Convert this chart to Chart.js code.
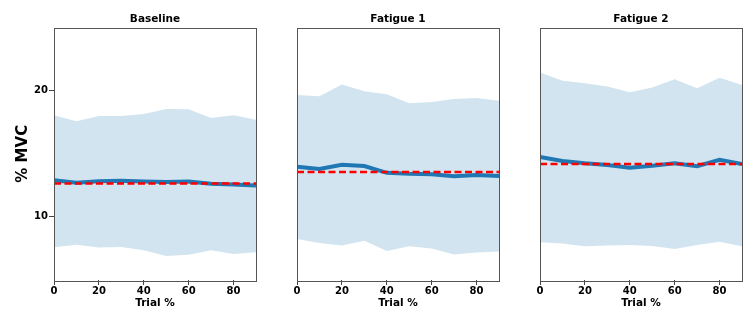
<!DOCTYPE html>
<html>
<head>
<meta charset="utf-8">
<script src="https://cdn.jsdelivr.net/npm/chart.js@4/dist/chart.umd.min.js"></script>
<style>
  body { margin: 0; background: #fff; }
  .panel { position: absolute; top: 0; height: 323px; }
</style>
</head>
<body>
<div class="panel" style="left:0px;width:262px"><canvas id="c0"></canvas></div>
<div class="panel" style="left:291px;width:214px"><canvas id="c1"></canvas></div>
<div class="panel" style="left:534px;width:214px"><canvas id="c2"></canvas></div>
<script>
// trial progress (% of trial) and y ticks
var trialPct = [0, 10, 20, 30, 40, 50, 60, 70, 80, 90];
var xTicks = [0, 20, 40, 60, 80];
var yTicks = [10, 20];
var titles = ["Baseline", "Fatigue 1", "Fatigue 2"];

// mean %MVC per condition
var baselineMean = [12.91, 12.7, 12.83, 12.86, 12.8, 12.76, 12.8, 12.62, 12.57, 12.48];
var fatigue1Mean = [13.97, 13.79, 14.13, 14.03, 13.49, 13.41, 13.37, 13.22, 13.31, 13.23];
var fatigue2Mean = [14.74, 14.42, 14.24, 14.1, 13.89, 14.05, 14.24, 14.02, 14.52, 14.18];

// upper / lower edges of the shaded band
var baselineUpper = [18.05, 17.57, 18.0, 18.0, 18.15, 18.55, 18.52, 17.83, 18.05, 17.7];
var baselineLower = [7.6, 7.8, 7.57, 7.62, 7.36, 6.9, 7.0, 7.36, 7.05, 7.2];
var fatigue1Upper = [19.66, 19.56, 20.48, 19.95, 19.71, 19.0, 19.1, 19.34, 19.42, 19.2];
var fatigue1Lower = [8.25, 7.94, 7.73, 8.1, 7.3, 7.67, 7.49, 7.02, 7.18, 7.25];
var fatigue2Upper = [21.43, 20.79, 20.59, 20.32, 19.87, 20.24, 20.9, 20.19, 21.01, 20.45];
var fatigue2Lower = [7.99, 7.89, 7.67, 7.73, 7.78, 7.7, 7.46, 7.78, 8.02, 7.67];

// overall mean (dashed red line)
var overallMean = [12.65, 13.56, 14.18];

var means = [baselineMean, fatigue1Mean, fatigue2Mean];
var uppers = [baselineUpper, fatigue1Upper, fatigue2Upper];
var lowers = [baselineLower, fatigue1Lower, fatigue2Lower];

function pts(arr) {
    return arr.map((v, i) => ({ x: trialPct[i], y: v }));
}

// axes frame + panel title centred over the plot area
var frame = {
    id: "frame",
    afterDatasetsDraw(chart) {
        var a = chart.chartArea, ctx = chart.ctx;
        ctx.save();
        ctx.strokeStyle = "#555";
        ctx.lineWidth = 1;
        ctx.strokeRect(Math.round(a.left) + 0.5, Math.round(a.top) + 0.5,
            Math.round(a.right - a.left), Math.round(a.bottom - a.top));
        ctx.fillStyle = "#000";
        ctx.font = "bold 10.5px 'DejaVu Sans'";
        ctx.textAlign = "center";
        ctx.textBaseline = "middle";
        ctx.fillText(chart.options.plugins.frame.title, (a.left + a.right) / 2, 19);
        ctx.restore();
    }
};

var tickFont = { family: "DejaVu Sans", size: 10, weight: "bold" };
var labelFont = { family: "DejaVu Sans", size: 10.5, weight: "bold" };

for (let p = 0; p < 3; p++) {
    const first = p === 0;
    const config = {
        type: "line",
        data: {
            datasets: [
                {
                    data: [{ x: trialPct[0], y: overallMean[p] }, { x: trialPct[trialPct.length - 1], y: overallMean[p] }],
                    borderColor: "#ff0000",
                    borderWidth: 2.5,
                    borderDash: [7, 3.5],
                    pointRadius: 0,
                    fill: false,
                    order: 0
                },
                {
                    data: pts(means[p]),
                    borderColor: "#1f77b4",
                    borderWidth: 4,
                    pointRadius: 0,
                    fill: false,
                    order: 1
                },
                {
                    data: pts(uppers[p]),
                    borderWidth: 0,
                    borderColor: "rgba(0,0,0,0)",
                    backgroundColor: "rgba(31,119,180,0.2)",
                    pointRadius: 0,
                    fill: "+1",
                    order: 2
                },
                {
                    data: pts(lowers[p]),
                    borderWidth: 0,
                    borderColor: "rgba(0,0,0,0)",
                    pointRadius: 0,
                    fill: false,
                    order: 3
                }
            ]
        },
        options: {
            responsive: true,
            maintainAspectRatio: false,
            animation: false,
            events: [],
            layout: { padding: { left: first ? 0 : 6, right: 6, top: 27.5, bottom: 0 } },
            plugins: {
                legend: { display: false },
                tooltip: { enabled: false },
                title: { display: false },
                frame: { title: titles[p] }
            },
            scales: {
                x: {
                    type: "linear",
                    min: 0,
                    max: 90,
                    afterBuildTicks: s => { s.ticks = xTicks.map(v => ({ value: v })); },
                    afterFit: s => { s.height = 43; },
                    ticks: { color: "#000", font: tickFont, padding: 0, maxRotation: 0 },
                    grid: { drawOnChartArea: false, drawTicks: true, tickLength: 5, color: "#444" },
                    border: { display: false },
                    title: { display: true, text: "Trial %", color: "#000", font: labelFont, padding: { top: 0, bottom: 13 } }
                },
                y: {
                    type: "linear",
                    min: 5,
                    max: 25,
                    display: first,
                    afterBuildTicks: s => { s.ticks = yTicks.map(v => ({ value: v })); },
                    afterFit: s => { s.width = first ? 54 : 0; },
                    ticks: { color: "#000", font: tickFont, padding: 1 },
                    grid: { drawOnChartArea: false, drawTicks: true, tickLength: 5, color: "#444" },
                    border: { display: false },
                    title: {
                        display: true, text: "% MVC", color: "#000",
                        font: { family: "DejaVu Sans", size: 15, weight: "bold" },
                        padding: { top: 14, bottom: 0 }
                    }
                }
            }
        },
        plugins: [frame]
    };
    new Chart(document.getElementById("c" + p), config);
}
</script>
</body>
</html>
